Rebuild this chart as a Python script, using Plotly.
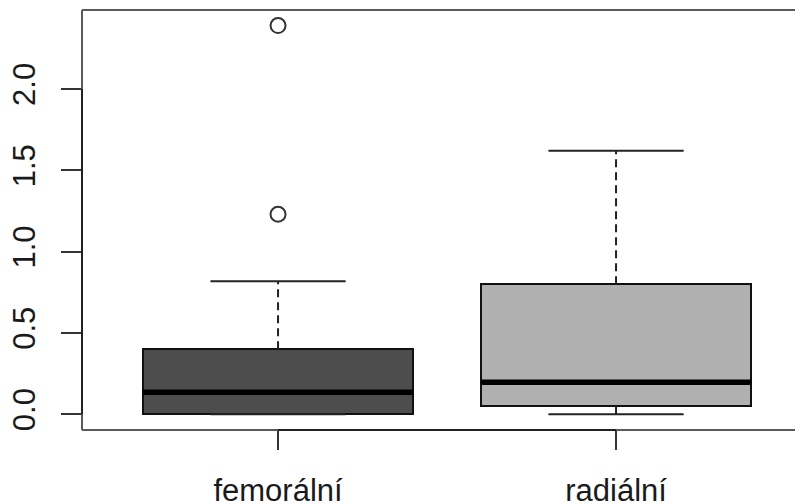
import plotly.graph_objects as go

# ---- data ----
categories = ["femorální", "radiální"]
positions = [1, 2]
lower_whisker = [0.0, 0.0]
q1 = [0.0, 0.05]
median = [0.135, 0.197]
q3 = [0.40, 0.80]
upper_whisker = [0.818, 1.62]
outlier_group = [1, 1]
outlier_values = [1.23, 2.39]
fills = ["#4D4D4D", "#B0B0B0"]
y_ticks = [0.0, 0.5, 1.0, 1.5, 2.0]
y_tick_labels = ["0.0", "0.5", "1.0", "1.5", "2.0"]

BOX_W = 0.8
CAP_W = 0.4
FONT = dict(family="Liberation Sans, Arial, sans-serif", size=31, color="#1a1a1a")

fig = go.Figure()

# box bodies
fig.add_trace(go.Bar(
    x=positions, base=q1, y=[b - a for a, b in zip(q1, q3)], width=BOX_W,
    marker=dict(color=fills, line=dict(color="#111", width=2)),
    showlegend=False, hoverinfo="skip"))

def segs(xs0, xs1, ys0, ys1):
    X, Y = [], []
    for a, b, c, d in zip(xs0, xs1, ys0, ys1):
        X += [a, b, None]
        Y += [c, d, None]
    return X, Y

# dashed whiskers
wx, wy = segs(positions + positions, positions + positions,
              q3 + q1, upper_whisker + lower_whisker)
fig.add_trace(go.Scatter(x=wx, y=wy, mode="lines",
                         line=dict(color="#222", width=2, dash="8px,5px"),
                         showlegend=False, hoverinfo="skip"))
# caps
cx, cy = segs([p - CAP_W / 2 for p in positions] * 2,
              [p + CAP_W / 2 for p in positions] * 2,
              upper_whisker + lower_whisker, upper_whisker + lower_whisker)
fig.add_trace(go.Scatter(x=cx, y=cy, mode="lines",
                         line=dict(color="#222", width=2),
                         showlegend=False, hoverinfo="skip"))
# medians
mx, my = segs([p - BOX_W / 2 for p in positions],
              [p + BOX_W / 2 for p in positions], median, median)
fig.add_trace(go.Scatter(x=mx, y=my, mode="lines",
                         line=dict(color="#000", width=5.5),
                         showlegend=False, hoverinfo="skip"))
# outliers
fig.add_trace(go.Scatter(x=outlier_group, y=outlier_values, mode="markers",
                         marker=dict(symbol="circle-open", size=15,
                                     color="#333", line=dict(width=2)),
                         showlegend=False, hoverinfo="skip"))

frame = dict(color="#5a5a5a", width=2)
shapes = [
    dict(type="line", xref="paper", yref="paper", x0=0, x1=0, y0=0, y1=1, line=frame),
    dict(type="line", xref="paper", yref="paper", x0=0, x1=1.01, y0=1, y1=1, line=frame),
    dict(type="line", xref="paper", yref="paper", x0=0, x1=1.01, y0=0, y1=0, line=frame),
    dict(type="line", xref="paper", yref="y", x0=0, x1=0, y0=y_ticks[0], y1=y_ticks[-1],
         line=dict(color="#222", width=2)),
    dict(type="line", xref="x", yref="paper", x0=positions[0], x1=positions[-1], y0=0, y1=0,
         line=dict(color="#222", width=2)),
]

# the page body adds an 8px margin, so the figure is sized to fit the window
fig.update_layout(
    width=795, height=496,
    margin=dict(l=74, r=0, t=2, b=74, autoexpand=False),
    paper_bgcolor="white", plot_bgcolor="white",
    font=FONT, shapes=shapes, bargap=0,
    xaxis=dict(range=[0.42, 0.42 + 721 / 338], tickvals=positions, ticktext=categories,
               ticks="outside", ticklen=19, tickwidth=2, tickcolor="#333",
               showgrid=False, zeroline=False, showline=False, automargin=False,
               ticklabelstandoff=14, tickfont=FONT),
    yaxis=dict(range=[-0.097, 2.486], tickvals=y_ticks, ticktext=y_tick_labels,
               ticks="outside", ticklen=20, tickwidth=2, tickcolor="#333",
               showgrid=False, zeroline=False, showline=False, tickangle=-90,
               automargin=False, ticklabelstandoff=14, tickfont=FONT),
)

fig.write_html("out.html")
